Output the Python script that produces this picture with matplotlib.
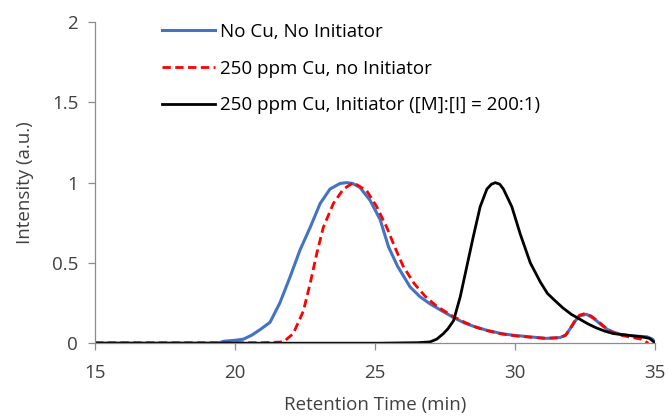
import matplotlib
matplotlib.use("Agg")
import matplotlib.pyplot as plt

# No Cu, No Initiator (blue)
blue_x = [15.0, 19.4, 19.6, 20.0, 20.3, 20.6, 20.9, 21.25, 21.6, 21.96, 22.32, 22.68, 23.04,
          23.39, 23.75, 23.99, 24.2, 24.46, 24.82, 25.18, 25.48, 25.8, 26.25, 26.6, 26.96,
          27.4, 27.8, 28.2, 28.6, 29.0, 29.5, 30.0, 30.5, 31.1, 31.6, 31.8, 31.96, 32.15,
          32.3, 32.55, 32.75, 32.9, 33.1, 33.3, 33.5, 33.75, 34.2, 34.7, 34.9, 35.0]
blue_y = [0.0, 0.0, 0.012, 0.018, 0.025, 0.05, 0.085, 0.13, 0.25, 0.41, 0.58, 0.72, 0.87,
          0.96, 0.995, 1.0, 0.995, 0.97, 0.89, 0.77, 0.6, 0.48, 0.35, 0.29, 0.245,
          0.2, 0.16, 0.125, 0.1, 0.08, 0.06, 0.048, 0.04, 0.03, 0.035, 0.05, 0.09, 0.14,
          0.17, 0.18, 0.16, 0.14, 0.11, 0.085, 0.07, 0.055, 0.045, 0.04, 0.025, 0.0]

# 250 ppm Cu, no Initiator (red dashed)
red_x = [15.0, 18.0, 21.0, 21.73, 22.08, 22.44, 22.68, 22.92, 23.15, 23.51, 23.87, 24.23,
         24.7, 25.06, 25.42, 25.7, 26.0, 26.4, 26.8, 27.2, 27.8, 28.2, 28.6, 29.0, 29.5,
         30.0, 30.5, 31.1, 31.6, 31.8, 31.96, 32.15, 32.3, 32.5, 32.7, 32.9, 33.1, 33.3,
         33.5, 33.75, 34.2, 34.5, 34.75]
red_y = [0.003, 0.003, 0.003, 0.008, 0.06, 0.2, 0.37, 0.56, 0.72, 0.87, 0.96, 1.0,
         0.95, 0.85, 0.72, 0.6, 0.48, 0.37, 0.29, 0.23, 0.165, 0.13, 0.1, 0.078, 0.058,
         0.046, 0.038, 0.03, 0.035, 0.05, 0.09, 0.145, 0.175, 0.185, 0.17, 0.145, 0.115, 0.085,
         0.065, 0.05, 0.035, 0.025, 0.0]

# 250 ppm Cu, Initiator (black)
black_x = [15.0, 25.2, 26.0, 26.5, 26.96, 27.2, 27.44, 27.6, 27.8, 28.04, 28.27, 28.5, 28.75,
           28.99, 29.15, 29.29, 29.45, 29.58, 29.88, 30.18, 30.54, 30.9, 31.15, 31.45, 31.7,
           32.0, 32.3, 32.6, 32.9, 33.2, 33.5, 34.0, 34.5, 34.8, 35.0]
black_y = [0.0, 0.0, 0.002, 0.003, 0.008, 0.025, 0.06, 0.09, 0.14, 0.29, 0.475, 0.66, 0.85,
           0.96, 0.99, 1.0, 0.99, 0.96, 0.85, 0.68, 0.5, 0.38, 0.31, 0.26, 0.22,
           0.18, 0.15, 0.12, 0.095, 0.075, 0.06, 0.05, 0.04, 0.03, 0.0]

labels = ["No Cu, No Initiator",
          "250 ppm Cu, no Initiator",
          "250 ppm Cu, Initiator ([M]:[I] = 200:1)"]

plt.rcParams["font.family"] = ["Open Sans", "DejaVu Sans"]
text_color = "#404040"
axis_color = "#8c8c8c"
fs = 13.5

fig = plt.figure(figsize=(6.68, 4.17), dpi=100)
ax = fig.add_axes([0.142, 0.177, 0.839, 0.770])

ax.plot(blue_x, blue_y, color="#4472C4", lw=2.2, label=labels[0])
ax.plot(red_x, red_y, color="#FF0000", lw=2.0, ls=(0, (3, 1.6)), label=labels[1])
ax.plot(black_x, black_y, color="black", lw=2.0, label=labels[2])

ax.set_xlim(15, 35)
ax.set_ylim(0, 2)
ax.set_xticks([15, 20, 25, 30, 35])
ax.set_yticks([0, 0.5, 1, 1.5, 2])
ax.set_yticklabels(["0", "0.5", "1", "1.5", "2"])

for s in ["top", "right"]:
    ax.spines[s].set_visible(False)
for s in ["left", "bottom"]:
    ax.spines[s].set_color(axis_color)
    ax.spines[s].set_linewidth(0.9)

ax.tick_params(axis="both", colors=axis_color, labelcolor=text_color,
               labelsize=fs, length=5, width=0.9)
ax.tick_params(axis="x", pad=10)
ax.tick_params(axis="y", pad=7)

ax.set_xlabel("Retention Time (min)", fontsize=fs, color=text_color, labelpad=10)
ax.set_ylabel("Intensity (a.u.)", fontsize=fs, color=text_color, labelpad=13)

leg = ax.legend(loc="upper left", bbox_to_anchor=(0.09, 1.05), frameon=False,
                fontsize=fs, handlelength=2.8, handletextpad=0.3, labelspacing=1.0)
for t in leg.get_texts():
    t.set_color("black")

fig.savefig("out.png", dpi=100)
